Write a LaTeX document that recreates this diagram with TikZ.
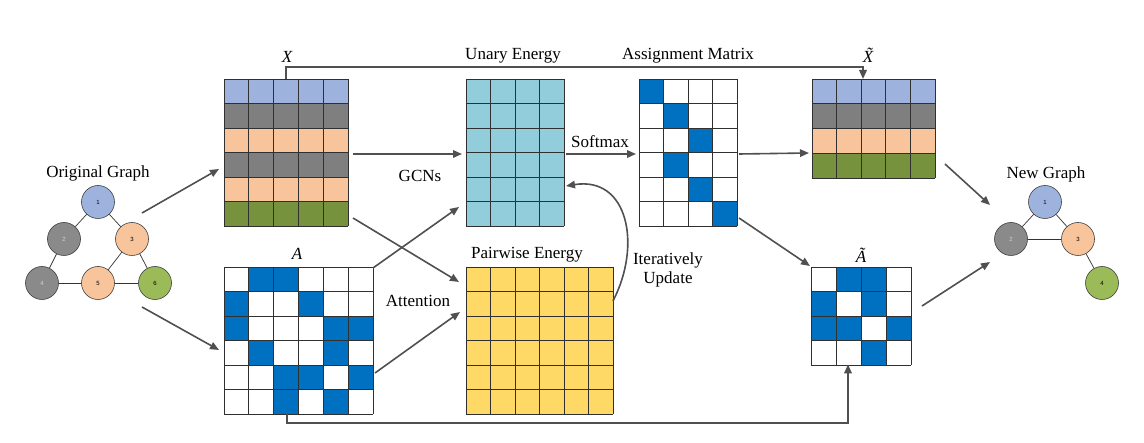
\documentclass[tikz,border=0pt]{standalone}
\usepackage{fontspec}
\setmainfont{Liberation Serif}
\newfontfamily\gfont{Liberation Sans}
\usetikzlibrary{arrows.meta,calc}
\definecolor{xblue}{HTML}{9DB3DE}
\definecolor{xgray}{HTML}{7F7F7F}
\definecolor{xpeach}{HTML}{F8C49B}
\definecolor{xgreen}{HTML}{76923C}
\definecolor{ublue}{HTML}{92CDDC}
\definecolor{pyellow}{HTML}{FFD966}
\definecolor{mblue}{HTML}{0070C0}
\definecolor{ngray}{HTML}{8A8A8A}
\definecolor{ngreen}{HTML}{9BBB59}
\definecolor{arrc}{HTML}{505050}
\definecolor{gridc}{HTML}{303030}
\definecolor{pinktxt}{HTML}{F0C8C8}
% grid: x0 y0 ncols nrows cw ch
\newcommand\mygrid[6]{%
  \foreach \i in {0,...,#3} \draw[gridline] (#1+\i*#5,#2) -- (#1+\i*#5,#2+#4*#6);
  \foreach \j in {0,...,#4} \draw[gridline] (#1,#2+\j*#6) -- (#1+#3*#5,#2+\j*#6);
}
\begin{document}
\begin{tikzpicture}[x=1pt,y=-1pt,
  gridline/.style={draw=gridc,line width=0.8pt},
  arr/.style={draw=arrc,line width=1.6pt,-{Triangle[length=9pt,width=7.5pt]}},
  longarr/.style={arr,line width=2pt},
  gnode/.style={circle,draw=black!75,line width=0.6pt,minimum size=33pt,inner sep=0pt,font=\gfont\fontsize{6}{7}\selectfont},
  gedge/.style={draw=black!80,line width=0.7pt},
  lbl/.style={font=\fontsize{17}{19}\selectfont,inner sep=0pt},
  box/.style={inner sep=0pt,anchor=north west}
]
\useasboundingbox (0,0) rectangle (1144,443);

% ---------- Original graph ----------
\node[lbl] (tOG) at (98,173) {Original Graph};
\node[gnode,fill=xblue] (o1) at (98,202) {1};
\node[gnode,fill=ngray,text=pinktxt] (o2) at (64,239) {2};
\node[gnode,fill=xpeach] (o3) at (132,239) {3};
\node[gnode,fill=ngray,text=pinktxt] (o4) at (42,283) {4};
\node[gnode,fill=xpeach] (o5) at (98,283) {5};
\node[gnode,fill=ngreen] (o6) at (155,283) {6};
\draw[gedge] (o1) -- (o2);
\draw[gedge] (o1) -- (o3);
\draw[gedge] (o2) -- (o4);
\draw[gedge] (o3) -- (o5);
\draw[gedge] (o3) -- (o6);
\draw[gedge] (o4) -- (o5);
\draw[gedge] (o5) -- (o6);

% ---------- X ----------
\node[box,minimum width=124pt,minimum height=147pt] (X) at (224,79) {};
\foreach \c [count=\r from 0] in {xblue,xgray,xpeach,xgray,xpeach,xgreen}
  \fill[\c] (224,79+\r*24.5) rectangle (348,79+\r*24.5+24.5);
\mygrid{224}{79}{5}{6}{24.8}{24.5}
\node[lbl] (tX) at (287,57) {\itshape X};

% ---------- A ----------
\node[box,minimum width=149pt,minimum height=147pt] (A) at (224,267) {};
\foreach \r/\c in {0/1,0/2,1/0,1/3,2/0,2/4,2/5,3/1,3/4,4/2,4/3,4/5,5/2,5/4}
  \fill[mblue] (224+\c*24.83,267+\r*24.5) rectangle (224+\c*24.83+24.83,267+\r*24.5+24.5);
\mygrid{224}{267}{6}{6}{24.83}{24.5}
\node[lbl] (tA) at (297,254) {\itshape A};

% ---------- Unary energy ----------
\node[box,minimum width=98pt,minimum height=147pt] (U) at (466,79) {};
\fill[ublue] (466,79) rectangle (564,226);
\mygrid{466}{79}{4}{6}{24.5}{24.5}
\node[lbl] (tU) at (513,56) {Unary Energy};

% ---------- Pairwise energy ----------
\node[box,minimum width=147pt,minimum height=147pt] (P) at (466,267) {};
\fill[pyellow] (466,267) rectangle (613,414);
\mygrid{466}{267}{6}{6}{24.5}{24.5}
\node[lbl] (tP) at (527,255) {Pairwise Energy};

% ---------- Assignment matrix ----------
\node[box,minimum width=98pt,minimum height=147pt] (S) at (639,79) {};
\foreach \r/\c in {0/0,1/1,2/2,3/1,4/2,5/3}
  \fill[mblue] (639+\c*24.5,79+\r*24.5) rectangle (639+\c*24.5+24.5,79+\r*24.5+24.5);
\mygrid{639}{79}{4}{6}{24.5}{24.5}
\node[lbl] (tS) at (688,56) {Assignment Matrix};

% ---------- X tilde ----------
\node[box,minimum width=123pt,minimum height=99pt] (XT) at (812,79) {};
\foreach \c [count=\r from 0] in {xblue,xgray,xpeach,xgreen}
  \fill[\c] (812,79+\r*24.75) rectangle (935,79+\r*24.75+24.75);
\mygrid{812}{79}{5}{4}{24.6}{24.75}
\node[lbl] (tXT) at (868,55) {\itshape X\llap{\raisebox{0.2em}{\makebox[0.611em]{\hspace{0.14em}\char"02DC}}}};

% ---------- A tilde ----------
\node[box,minimum width=100pt,minimum height=98pt] (AT) at (811,267) {};
\foreach \r/\c in {0/1,0/2,1/0,1/2,2/0,2/1,2/3,3/2}
  \fill[mblue] (811+\c*25,267+\r*24.5) rectangle (811+\c*25+25,267+\r*24.5+24.5);
\mygrid{811}{267}{4}{4}{25}{24.5}
\node[lbl] (tAT) at (861,255) {\itshape Ã};

% ---------- New graph ----------
\node[lbl] (tNG) at (1046,174) {New Graph};
\node[gnode,fill=xblue] (n1) at (1045,202) {1};
\node[gnode,fill=ngray,text=pinktxt] (n2) at (1011,239) {2};
\node[gnode,fill=xpeach] (n3) at (1078,239) {3};
\node[gnode,fill=ngreen] (n4) at (1102,283) {4};
\draw[gedge] (n1) -- (n2);
\draw[gedge] (n1) -- (n3);
\draw[gedge] (n2) -- (n3);
\draw[gedge] (n3) -- (n4);

% ---------- connector end points ----------
\coordinate (c1s) at (142,213);  \coordinate (c1e) at (219,169);
\coordinate (c2s) at (142,307);  \coordinate (c2e) at (219,350);
\coordinate (gcs) at (353,154);  \coordinate (gce) at (462,154);
\coordinate (xps) at (353,218);  \coordinate (xpe) at (459,282);
\coordinate (aus) at (373,268);  \coordinate (aue) at (459,207);
\coordinate (aps) at (375,373);  \coordinate (ape) at (460,312);
\coordinate (sms) at (566,154);  \coordinate (sme) at (636,154);
\coordinate (sxs) at (739,154);  \coordinate (sxe) at (809,153);
\coordinate (sas) at (739,218);  \coordinate (sae) at (810,266);
\coordinate (xns) at (945,164);  \coordinate (xne) at (990,205);
\coordinate (ans) at (922,306);  \coordinate (ane) at (990,262);
\coordinate (ius) at (613,301);  \coordinate (iue) at (566,186);
\coordinate (tl1) at (286,67.5); \coordinate (tl2) at (863,67.5);
\coordinate (bl1) at (287,423);  \coordinate (bl2) at (848,423);

\draw[arr] (c1s) -- (c1e);
\draw[arr] (c2s) -- (c2e);
\draw[arr] (gcs) -- (gce);
\draw[arr] (xps) -- (xpe);
\draw[arr] (aus) -- (aue);
\draw[arr] (aps) -- (ape);
\draw[arr] (sms) -- (sme);
\draw[arr] (sxs) -- (sxe);
\draw[arr] (sas) -- (sae);
\draw[arr] (xns) -- (xne);
\draw[arr] (ans) -- (ane);
\draw[arr] (ius) .. controls (642,245) and (628,176) .. (iue);
\draw[longarr] (X.north -| tl1) -- (tl1) -- (tl2) -- (XT.north -| tl2);
\draw[longarr] (A.south -| bl1) -- (bl1) -- (bl2) -- ([yshift=1pt]AT.south -| bl2);

% ---------- edge labels ----------
\node[lbl] (tGCN) at (420,176) {GCNs};
\node[lbl] (tSM) at (600,142) {Softmax};
\node[lbl] (tAtt) at (418,301) {Attention};
\node[lbl,align=center] (tIU) at (668,270) {Iteratively\\Update};
\end{tikzpicture}
\end{document}
